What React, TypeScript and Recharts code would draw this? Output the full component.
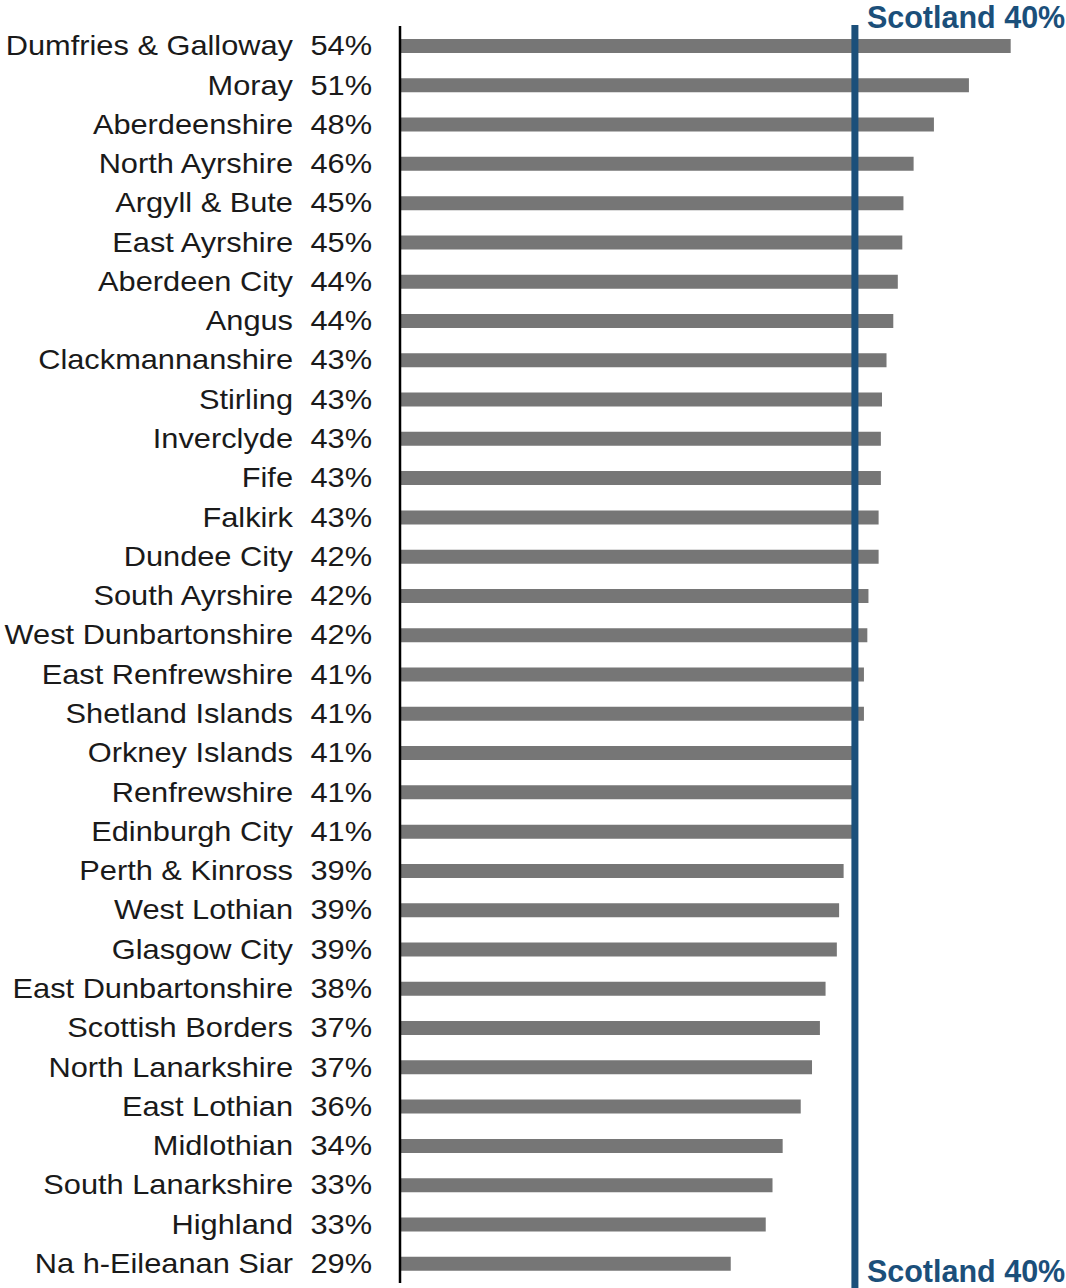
import { BarChart, Bar, XAxis, YAxis, ReferenceLine } from "recharts";

const areas = [
  "Dumfries & Galloway", "Moray", "Aberdeenshire", "North Ayrshire", "Argyll & Bute",
  "East Ayrshire", "Aberdeen City", "Angus", "Clackmannanshire", "Stirling",
  "Inverclyde", "Fife", "Falkirk", "Dundee City", "South Ayrshire",
  "West Dunbartonshire", "East Renfrewshire", "Shetland Islands", "Orkney Islands", "Renfrewshire",
  "Edinburgh City", "Perth & Kinross", "West Lothian", "Glasgow City", "East Dunbartonshire",
  "Scottish Borders", "North Lanarkshire", "East Lothian", "Midlothian", "South Lanarkshire",
  "Highland", "Na h-Eileanan Siar",
];

// bar lengths as drawn (%)
const shares = [
  54.1, 50.4, 47.3, 45.5, 44.6,
  44.5, 44.1, 43.7, 43.1, 42.7,
  42.6, 42.6, 42.4, 42.4, 41.5,
  41.4, 41.1, 41.1, 40.4, 40.4,
  40.4, 39.3, 38.9, 38.7, 37.7,
  37.2, 36.5, 35.5, 33.9, 33.0,
  32.4, 29.3,
];

// rounded figures printed beside the names
const shareLabels = [
  "54%", "51%", "48%", "46%", "45%",
  "45%", "44%", "44%", "43%", "43%",
  "43%", "43%", "43%", "42%", "42%",
  "42%", "41%", "41%", "41%", "41%",
  "41%", "39%", "39%", "39%", "38%",
  "37%", "37%", "36%", "34%", "33%",
  "33%", "29%",
];

const scotlandValue = 40.3;
const scotlandLabel = "Scotland 40%";

const data = areas.map((area, i) => ({ area, share: shares[i] }));

const FONT = "'Liberation Sans', Arial, sans-serif";
const BLUE = "#1b4f7a";

function AreaTick(props: any) {
  const { x, y, payload } = props;
  const idx = areas.indexOf(payload.value);
  return (
    <g transform={`translate(${x},${y})`}>
      <text
        transform="translate(-107,9.6) scale(1.14,1)"
        textAnchor="end"
        fontFamily={FONT}
        fontSize={27}
        fill="#1a1a1a"
      >
        {payload.value}
      </text>
      <text
        transform="translate(-28,9.6) scale(1.14,1)"
        textAnchor="end"
        fontFamily={FONT}
        fontSize={27}
        fill="#1a1a1a"
      >
        {shareLabels[idx]}
      </text>
    </g>
  );
}

function ScotlandLine(props: any) {
  const top = Math.min(props.y1, props.y2);
  const bottom = Math.max(props.y1, props.y2);
  return <line x1={props.x1} x2={props.x2} y1={top - 1} y2={bottom + 6} stroke={BLUE} strokeWidth={7} />;
}

function ScotlandLabel(props: any) {
  const { x, y, height } = props.viewBox;
  return (
    <g>
      <text x={x + 12} y={y + 2} fontFamily={FONT} fontSize={30.5} fontWeight="bold" fill={BLUE}>
        {scotlandLabel}
      </text>
      <text x={x + 12} y={y + height - 1.5} fontFamily={FONT} fontSize={30.5} fontWeight="bold" fill={BLUE}>
        {scotlandLabel}
      </text>
    </g>
  );
}

export default function App() {
  return (
    <div style={{ position: "absolute", left: 0, top: 0, background: "#fff" }}>
      <BarChart
        layout="vertical"
        data={data}
        width={1066}
        height={1288}
        margin={{ top: 26, right: 0, bottom: 5, left: 0 }}
      >
        <XAxis type="number" domain={[0, 59]} hide />
        <YAxis
          type="category"
          dataKey="area"
          width={400}
          interval={0}
          tickLine={false}
          tickSize={0}
          tickMargin={0}
          axisLine={{ stroke: "#000", strokeWidth: 2.5 }}
          tick={(p: any) => <AreaTick {...p} />}
        />
        <Bar dataKey="share" fill="#767676" barSize={14} isAnimationActive={false} />
        <ReferenceLine
          x={scotlandValue}
          shape={(p: any) => <ScotlandLine {...p} />}
          label={(p: any) => <ScotlandLabel {...p} />}
        />
      </BarChart>
    </div>
  );
}
